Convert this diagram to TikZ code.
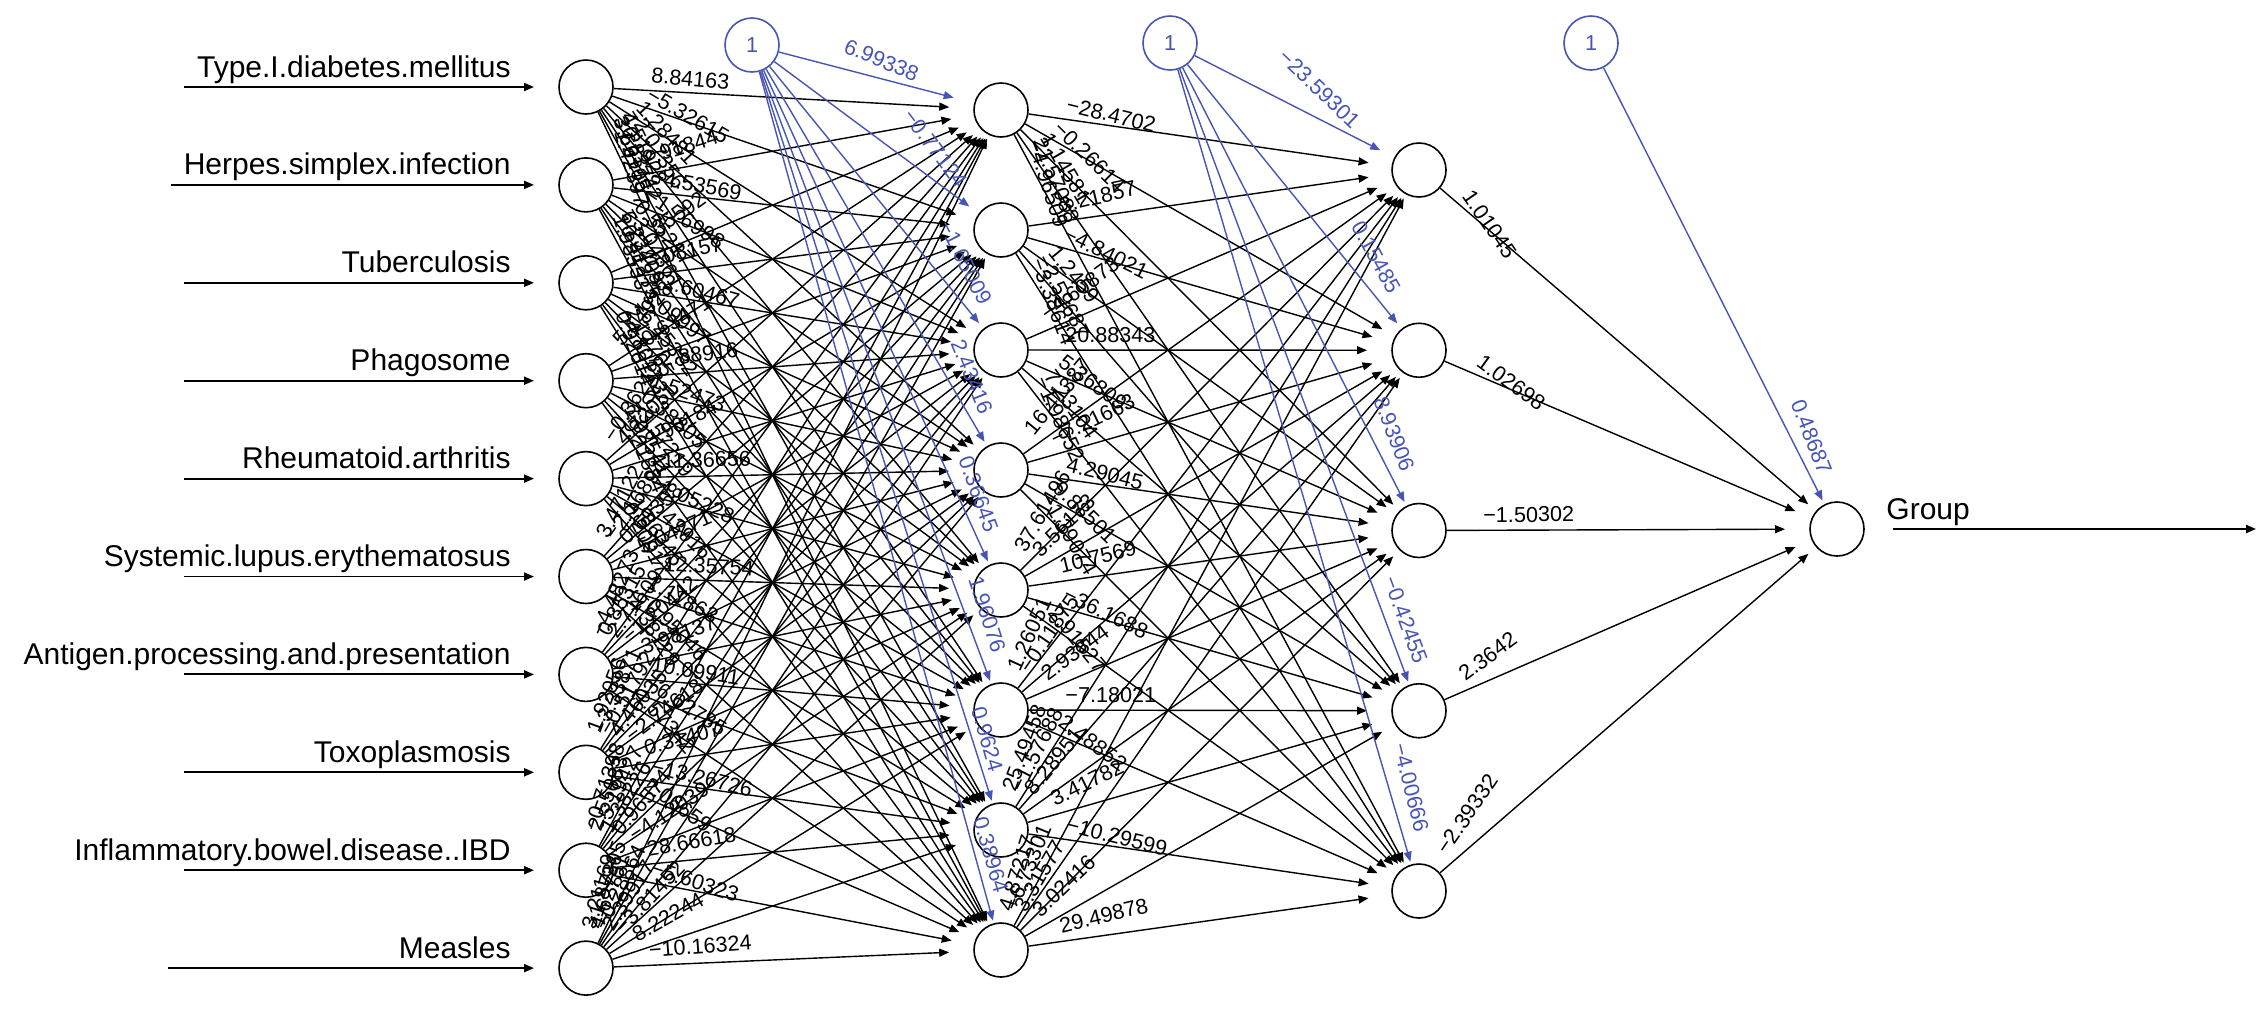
\documentclass[tikz,border=0pt]{standalone}
\usepackage{fontspec}
\setmainfont{Liberation Sans}
\usetikzlibrary{arrows.meta}
\definecolor{icol}{RGB}{70,85,180}
\newcommand\nnline[7]{%
  \pgfmathsetmacro\ddx{(#5-#3)/100}\pgfmathsetmacro\ddy{(#6-#4)/100}%
  \pgfmathsetmacro\nnl{sqrt(\ddx*\ddx+(1.75*\ddy)*(1.75*\ddy))}%
  \coordinate (#7) at ({#5-52*(\ddx/\nnl)},{#6-52*(\ddy/\nnl)});%
  \draw[#1] (#2) -- (#7);}
\newcommand\nnlabel[6]{%
  \pgfmathsetmacro\ddx{(#3-#1)/100}\pgfmathsetmacro\ddy{(#4-#2)/100}%
  \pgfmathsetmacro\nnl{sqrt(\ddx*\ddx+(1.75*\ddy)*(1.75*\ddy))}%
  \pgfmathsetmacro\tth{atan(1.7*\ddy/\ddx)}%
  \node[wl,rotate=-\tth] (#6) at ({#1+64*(\ddx/\nnl)+8*sin(\tth)},{#2+64*(\ddy/\nnl)-8*cos(\tth)}) {#5};}
\begin{document}
\begin{tikzpicture}[x=0.5pt,y=-0.5pt,
  neuron/.style={circle,draw,line width=0.8pt,minimum size=27pt,inner sep=0pt},
  bias/.style={neuron,draw=icol,text=icol,font=\fontsize{10.8}{13}\selectfont},
  syn/.style={line width=0.7pt,-{Triangle[length=5pt,width=4pt]}},
  insyn/.style={line width=0.95pt,-{Triangle[length=5pt,width=4pt]}},
  bsyn/.style={syn,color=icol},
  wl/.style={font=\fontsize{10.8}{13}\selectfont,inner sep=0pt,anchor=base west},
  bl/.style={font=\fontsize{10.8}{13}\selectfont,inner sep=0pt,anchor=west,text=icol},
  nm/.style={font=\fontsize{15}{18}\selectfont,inner sep=0pt,anchor=base east}]
\useasboundingbox (0,0) rectangle (2268,1014);
% neurons
\foreach \k in {1,...,10}{\pgfmathsetmacro\yy{87+97.9*(\k-1)}\node[neuron] (in\k) at (586,\yy) {};}
\foreach \k in {1,...,8}{\pgfmathsetmacro\yy{110+120*(\k-1)}\node[neuron] (ha\k) at (1001,\yy) {};}
\foreach \k in {1,...,5}{\pgfmathsetmacro\yy{170+180.25*(\k-1)}\node[neuron] (hb\k) at (1419,\yy) {};}
\node[neuron] (out) at (1837,529) {};
\node[bias] (b1) at (752,45) {1};
\node[bias] (b2) at (1170,43) {1};
\node[bias] (b3) at (1591,43) {1};
% input arrows and names
\foreach \k/\lab/\sx in {1/Type.I.diabetes.mellitus/184,2/Herpes.simplex.infection/171,3/Tuberculosis/184,4/Phagosome/184,5/Rheumatoid.arthritis/184,6/Systemic.lupus.erythematosus/184,7/Antigen.processing.and.presentation/184,8/Toxoplasmosis/184,9/Inflammatory.bowel.disease..IBD/184,10/Measles/168}{%
  \pgfmathsetmacro\yy{87+97.9*(\k-1)}%
  \coordinate (is\k) at (\sx,\yy);
  \coordinate (it\k) at (534,\yy);
  \draw[insyn] (is\k) -- (it\k);
  \node[nm] (nl\k) at ({511},{\yy-10}) {\lab};}
% output arrow
\coordinate (gs) at (1893,529);
\coordinate (ge) at (2256,529);
\draw[insyn] (gs) -- (ge);
\node[font=\fontsize{15}{18}\selectfont,inner sep=0pt,anchor=base west] (glab) at (1886,519) {Group};
% layer 1
\foreach \k/\ws in {
 1/{8.84163,−5.32615,1.28481,−2.07356,4.51928,−0.83742,3.66105,−1.42397},
 2/{2.91844,−4.53569,−1.76998,0.55217,−3.04861,6.23409,−0.41275,1.98533},
 3/{−1.35592,3.08157,12.60467,3.09997,−6.45382,2.17765,−4.80123,0.92614},
 4/{5.14928,−0.63471,−2.88916,1.52473,0.38805,−3.57219,7.02541,−9.21884},
 5/{−0.36219,4.72051,−3.90184,−11.36656,−1.05228,−7.43916,1.86345,0.20917},
 6/{3.47122,−2.16894,0.69358,5.04271,−12.35754,1.11863,−0.95046,4.38129},
 7/{−4.48273,0.85315,2.71609,−1.20442,3.98137,10.09911,−6.02785,1.57342},
 8/{1.92056,−3.33871,−0.51792,4.46035,−2.74618,0.31407,−13.26726,2.06659},
 9/{−0.71398,2.55083,−5.19427,1.38226,0.96574,−4.12039,28.66618,−5.60323},
 10/{3.21169,−1.87305,4.62751,−0.28864,2.39917,−3.81452,8.22244,−10.16324}}{%
  \pgfmathsetmacro\syy{87+97.9*(\k-1)}%
  \foreach \w [count=\j] in \ws {%
    \pgfmathsetmacro\tyy{110+120*(\j-1)}%
    \nnline{syn}{in\k}{586}{\syy}{1001}{\tyy}{ea-\k-\j}%
    \nnlabel{586}{\syy}{1001}{\tyy}{\w}{la-\k-\j}%
  }}
% layer 2
\foreach \k/\ws in {
 1/{−28.4702,−0.26614,1.14581,21.57088,−4.96509},
 2/{3.21857,−4.84021,1.2459,−2.59687,−3.38614},
 3/{−4.60873,20.88343,5.36809,7.23104,−1.98652},
 4/{16.41387,−7.21663,4.29045,9.88501,−1.39074},
 5/{37.61496,3.56173,10.7569,−36.1688,2.91527},
 6/{1.26051,−0.11875,2.93844,−7.18021,2.48852},
 7/{25.49458,−1.57688,8.28951,3.41782,−10.29599},
 8/{4.87217,−6.73301,3.31577,3.02416,29.49878}}{%
  \pgfmathsetmacro\syy{110+120*(\k-1)}%
  \foreach \w [count=\j] in \ws {%
    \pgfmathsetmacro\tyy{170+180.25*(\j-1)}%
    \nnline{syn}{ha\k}{1001}{\syy}{1419}{\tyy}{eb-\k-\j}%
    \nnlabel{1001}{\syy}{1419}{\tyy}{\w}{lb-\k-\j}%
  }}
% layer 3
\foreach \k/\w in {1/1.01045,2/1.02698,3/−1.50302,4/2.3642,5/−2.39332}{%
  \pgfmathsetmacro\syy{170+180.25*(\k-1)}%
  \nnline{syn}{hb\k}{1419}{\syy}{1837}{529}{ec-\k}%
  \nnlabel{1419}{\syy}{1837}{529}{\w}{lc-\k}}
% bias synapses
\foreach \j in {1,...,8}{\pgfmathsetmacro\tyy{110+120*(\j-1)}\nnline{bsyn}{b1}{752}{45}{1001}{\tyy}{ei1-\j}}
\foreach \j in {1,...,5}{\pgfmathsetmacro\tyy{170+180.25*(\j-1)}\nnline{bsyn}{b2}{1170}{43}{1419}{\tyy}{ei2-\j}}
\nnline{bsyn}{b3}{1591}{43}{1837}{529}{ei3-1}
% bias labels
\foreach \w/\cx/\cy/\an [count=\j] in {6.99338/845/45/22.4,−0.77124/908/112/53,−1.65009/945/222/63,2.43416/957/340/68,0.36645/965/457/70,1.96076/975/577/72,0.9624/978/707/74,0.38964/980/817/74}{%
  \node[bl,rotate=-\an] (li1-\j) at (\cx,\cy) {\w};}
\foreach \w/\cx/\cy/\an [count=\j] in {−23.59301/1282/53/43.8,0.15485/1357/223/61,8.93906/1380/397/69,−0.42455/1390/577/70,−4.00666/1400/743/76}{%
  \node[bl,rotate=-\an] (li2-\j) at (\cx,\cy) {\w};}
\node[bl,rotate=-68.6] (li3-1) at (1797,400) {0.48687};
\end{tikzpicture}
\end{document}
